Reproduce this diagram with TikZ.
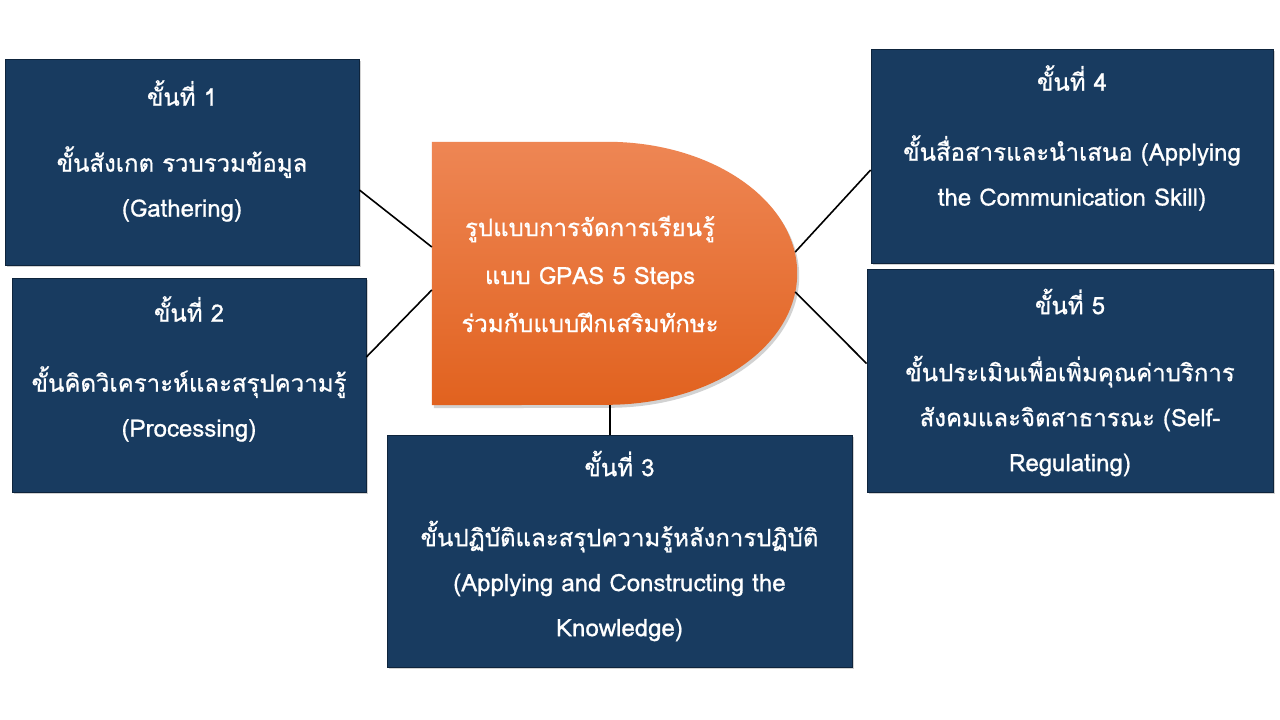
\documentclass[tikz,border=0pt]{standalone}
\usepackage{fontspec}
\newfontfamily\thaifont[Script=Thai,FakeBold=0.8]{Loma}
\usetikzlibrary{positioning,shadows}
\definecolor{navy}{RGB}{24,59,96}
\definecolor{navyline}{RGB}{14,36,60}
\definecolor{orangetop}{RGB}{238,134,84}
\definecolor{orangebot}{RGB}{225,98,31}
\tikzset{
      stepbox/.style={
        draw=navyline,line width=0.8pt,fill=navy,
        drop shadow={shadow xshift=1.5pt,shadow yshift=-1.5pt,opacity=0.35}
      },
      steptext/.style={text=white,align=center,font=\thaifont\fontsize{24}{45}\selectfont},
      link/.style={line width=1.6pt,black}
    }
\begin{document}
\begin{tikzpicture}[x=1pt,y=-1pt]
\useasboundingbox[fill=white] (0,0) rectangle (1280,720);
% centre shape
\node (main) at (614.5,273.5)[minimum width=365pt,minimum height=263pt,inner sep=0pt]{};
\fill[gray,opacity=0.35] ([xshift=2pt,yshift=-3pt]main.north west) -- ([xshift=-188pt,yshift=-3pt]main.north east)
    arc[start angle=90,end angle=-90,x radius=190pt,y radius=131.5pt] -- ([xshift=2pt,yshift=-3pt]main.south west) -- cycle;
\shade[top color=orangetop,bottom color=orangebot] (main.north west) -- ([xshift=-190pt]main.north east)
    arc[start angle=90,end angle=-90,x radius=190pt,y radius=131.5pt] -- (main.south west) -- cycle;
\node (title) at (590,274)[steptext,font=\thaifont\fontsize{24}{48}\selectfont]
    {รูปแบบการจัดการเรียนรู้\\แบบ GPAS 5 Steps\\ร่วมกับแบบฝึกเสริมทักษะ};
% steps
\node (s1) at (182,162)[stepbox,minimum width=354pt,minimum height=206pt]{};
\node (s2) at (189,385)[stepbox,minimum width=354pt,minimum height=214pt]{};
\node (s3) at (619.5,551)[stepbox,minimum width=465pt,minimum height=232pt]{};
\node (s4) at (1072,156)[stepbox,minimum width=402pt,minimum height=214pt]{};
\node (s5) at (1070,380.5)[stepbox,minimum width=406pt,minimum height=223pt]{};
\node (t1) at ([yshift=11pt]s1.center)[steptext]
    {ขั้นที่ 1\\[21pt]ขั้นสังเกต รวบรวมข้อมูล\\(Gathering)};
\node (t2) at ([yshift=16pt]s2.center)[steptext]
    {ขั้นที่ 2\\[25pt]ขั้นคิดวิเคราะห์และสรุปความรู้\\(Processing)};
\node (t3) at ([yshift=5pt]s3.center)[steptext]
    {ขั้นที่ 3\\[25pt]ขั้นปฏิบัติและสรุปความรู้หลังการปฏิบัติ\\(Applying and Constructing the\\Knowledge)};
\node (t4) at ([yshift=18pt]s4.center)[steptext]
    {ขั้นที่ 4\\[25pt]ขั้นสื่อสารและนำเสนอ (Applying\\the Communication Skill)};
\node (t5) at ([yshift=-2pt]s5.center)[steptext]
    {ขั้นที่ 5\\[22pt]ขั้นประเมินเพื่อเพิ่มคุณค่าบริการ\\สังคมและจิตสาธารณะ (Self-\\Regulating)};
% connectors
\draw[link] ([yshift=-28pt]s1.east) -- ([yshift=26.5pt]main.west);
\draw[link] ([yshift=28pt]s2.east) -- ([yshift=-16.5pt]main.west);
\draw[link] ([xshift=-4.5pt]main.south) -- ([xshift=-9.5pt]s3.north);
\draw[link] ([xshift=-2pt,yshift=21.5pt]main.east) -- ([yshift=-14pt]s4.west);
\draw[link] ([xshift=-2pt,yshift=-18.5pt]main.east) -- ([yshift=17pt]s5.west);
\end{tikzpicture}
\end{document}
